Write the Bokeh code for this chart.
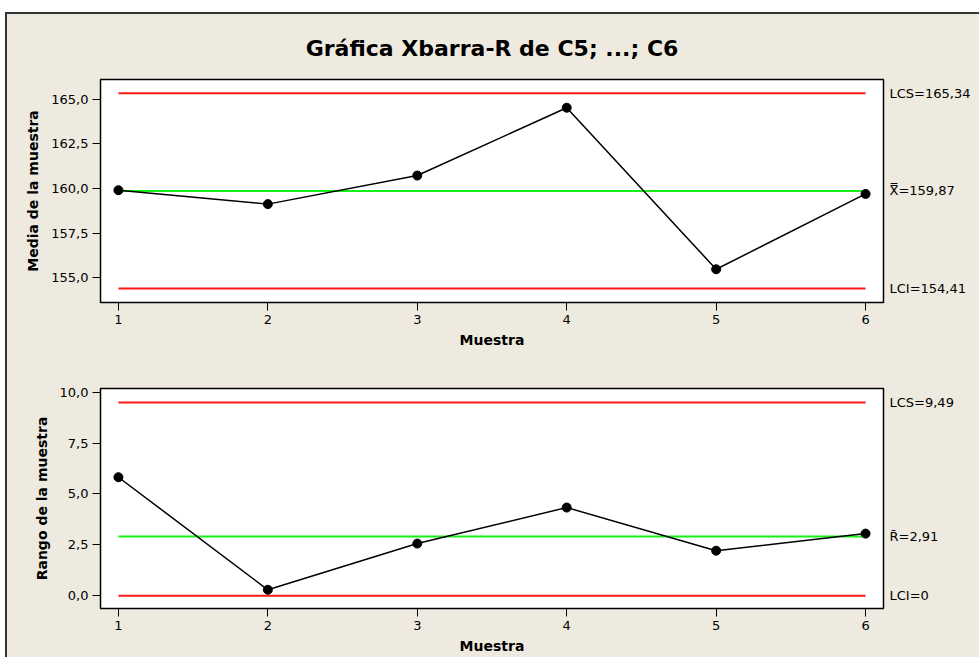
from bokeh.plotting import figure
from bokeh.layouts import column
from bokeh.models import FixedTicker, LinearAxis, Range1d
from bokeh.embed import file_html
from bokeh.resources import INLINE

# ---- data ----
titulo = "Gráfica Xbarra-R de C5; ...; C6"
muestra = [1, 2, 3, 4, 5, 6]
medias = [159.91, 159.13, 160.73, 164.53, 155.48, 159.70]
rangos = [5.82, 0.29, 2.56, 4.33, 2.21, 3.05]
xbar_limites = [165.34, 159.87, 154.41]          # LCS, media, LCI
r_limites = [9.49, 2.91, 0.0]
xbar_etiquetas = ["LCS=165,34", "X\u033f=159,87", "LCI=154,41"]
r_etiquetas = ["LCS=9,49", "R\u0304=2,91", "LCI=0"]
xbar_ticks = [155.0, 157.5, 160.0, 162.5, 165.0]
r_ticks = [0.0, 2.5, 5.0, 7.5, 10.0]

BG = "#EEEADF"
RED = "#FF1A1A"
GREEN = "#16F016"
FONT = "DejaVu Sans"


def coma(v):
    return f"{v:.1f}".replace(".", ",")


def chart(values, limits, labels, ticks, y_range, ylabel, height, top, bottom, title=None):
    p = figure(width=972, height=height, output_backend="svg", toolbar_location=None,
               x_range=Range1d(0.88, 6.12), y_range=Range1d(*y_range),
               min_border_left=93, min_border_right=96, min_border_top=top,
               min_border_bottom=bottom)
    p.background_fill_color = "white"
    p.border_fill_color = BG
    p.outline_line_color = "black"
    p.outline_line_width = 1.5
    p.grid.visible = False

    for ax in (p.xaxis[0], p.yaxis[0]):
        ax.major_tick_in = 0
        ax.major_tick_out = 8
        ax.minor_tick_line_color = None
        ax.axis_line_color = "black"
        ax.major_tick_line_color = "black"
        ax.major_label_text_font = FONT
        ax.major_label_text_font_size = "13px"
        ax.major_label_text_color = "black"
        ax.axis_label_text_font = FONT
        ax.axis_label_text_font_style = "bold"
        ax.axis_label_text_font_size = "14px"
        ax.axis_label_text_color = "black"

    p.xaxis.ticker = FixedTicker(ticks=muestra)
    p.xaxis.axis_label = "Muestra"
    p.xaxis.major_label_standoff = 4
    p.xaxis.axis_label_standoff = 5

    p.yaxis.ticker = FixedTicker(ticks=ticks)
    p.yaxis.major_label_overrides = {t: coma(t) for t in ticks}
    p.yaxis.axis_label = ylabel
    p.yaxis.major_label_standoff = 4
    p.yaxis.axis_label_standoff = 7

    # limit lines from first to last sample
    xs = [muestra[0], muestra[-1]]
    for lim, col in zip(limits, [RED, GREEN, RED]):
        p.line(xs, [lim, lim], line_color=col, line_width=2)

    p.line(muestra, values, line_color="black", line_width=1.5)
    p.scatter(muestra, values, size=9, color="black")

    right = LinearAxis(ticker=FixedTicker(ticks=limits),
                       major_label_overrides={l: t for l, t in zip(limits, labels)})
    right.major_tick_in = 0
    right.major_tick_out = 0
    right.minor_tick_line_color = None
    right.axis_line_color = None
    right.major_label_standoff = 6
    right.major_label_text_font = FONT
    right.major_label_text_font_size = "13px"
    right.major_label_text_color = "black"
    p.add_layout(right, "right")

    if title:
        p.title.text = title
        p.title.align = "center"
        p.title.text_font = FONT
        p.title.text_font_style = "bold"
        p.title.text_font_size = "22px"
        p.title.text_color = "black"
        p.title.standoff = 37
    return p


p1 = chart(medias, xbar_limites, xbar_etiquetas, xbar_ticks, (153.62, 166.11),
           "Media de la muestra", 336, 65, 45, title=titulo)
p2 = chart(rangos, r_limites, r_etiquetas, r_ticks, (-0.63, 10.18),
           "Rango de la muestra", 307, 38, 49)

layout = column(p1, p2, spacing=0,
                styles={"background-color": BG, "margin-left": "5px", "margin-top": "12px",
                        "border-left": "2px solid #333333", "border-top": "2px solid #333333"})
open("out.html", "w").write(file_html(layout, INLINE))
